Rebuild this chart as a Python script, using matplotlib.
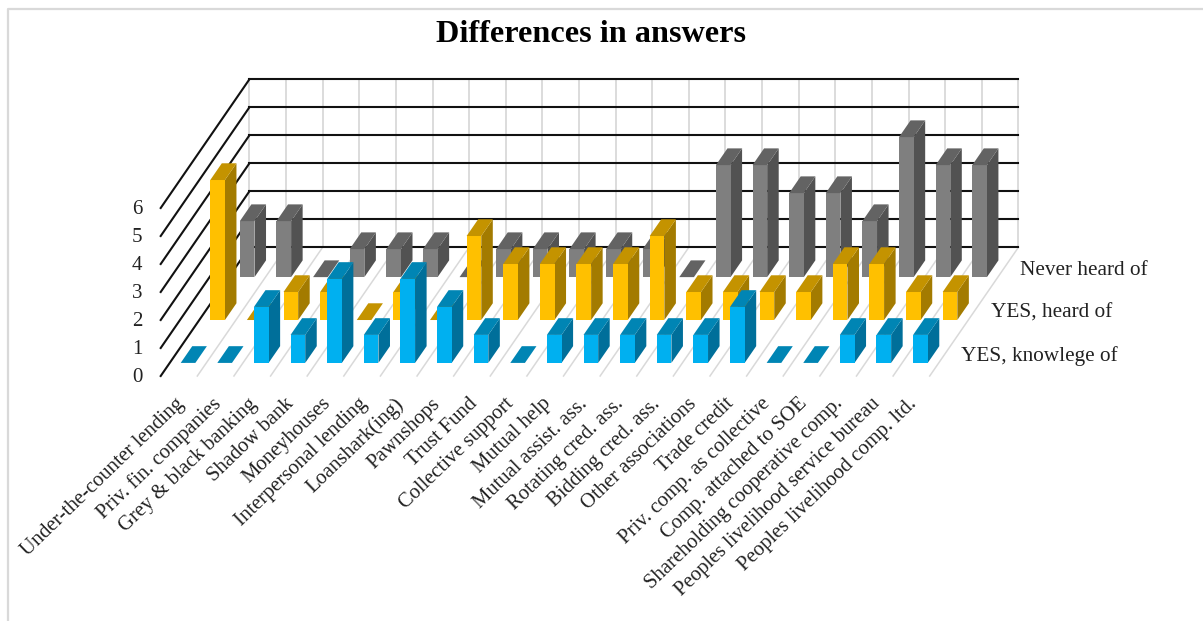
import matplotlib
matplotlib.use("Agg")
import matplotlib.pyplot as plt
from matplotlib.patches import Polygon

categories = ["Under-the-counter lending", "Priv. fin. companies", "Grey & black banking",
              "Shadow bank", "Moneyhouses", "Interpersonal lending", "Loanshark(ing)",
              "Pawnshops", "Trust Fund", "Collective support", "Mutual help",
              "Mutual assist. ass.", "Rotating cred. ass.", "Bidding cred. ass.",
              "Other associations", "Trade credit", "Priv. comp. as collective",
              "Comp. attached to SOE", "Shareholding cooperative comp.",
              "Peoples livelihood service bureau", "Peoples livelihood comp. ltd."]
series_names = ["YES, knowlege of", "YES, heard of", "Never heard of"]
knowledge = [0, 0, 2, 1, 3, 1, 3, 2, 1, 0, 1, 1, 1, 1, 1, 2, 0, 0, 1, 1, 1]
heard = [5, 0, 1, 1, 0, 1, 0, 3, 2, 2, 2, 2, 3, 1, 1, 1, 1, 2, 2, 1, 1]
never = [2, 2, 0, 1, 1, 1, 0, 1, 1, 1, 1, 1, 0, 4, 4, 3, 3, 2, 5, 4, 4]
value_ticks = [0, 1, 2, 3, 4, 5, 6]

W, H = 1203, 621
CAT_PX, VAL_PX = 36.62, 28.0
X0, Y0 = 160.7, 376.0
DEPTH_X = 29.57 / CAT_PX      # sideways shift per series, in category units
DEPTH_Y = 42.9 / VAL_PX       # upward shift per series, in value units
BAR_W, BAR_D = 0.40, 0.39

plt.rcParams["font.family"] = ["Liberation Serif", "DejaVu Serif"]
fig = plt.figure(figsize=(W / 100, H / 100), dpi=100, facecolor="white")
ax = fig.add_axes([0, 0, 1, 1])
ax.set_xlim(-X0 / CAT_PX, (W - X0) / CAT_PX)
ax.set_ylim((Y0 - H) / VAL_PX, Y0 / VAL_PX)
ax.axis("off")


def proj(cat, depth, val):
    return cat + depth * DEPTH_X, val + depth * DEPTH_Y


def px(x, y):
    return (x - X0) / CAT_PX, (Y0 - y) / VAL_PX


n = len(categories)
nd = len(series_names)
grid = "#D9D9D9"
for i in range(n + 1):
    ax.plot(*zip(proj(i, nd, 0), proj(i, nd, value_ticks[-1])), color=grid, lw=1.3, zorder=1)
    if i:
        ax.plot(*zip(proj(i, 0, 0), proj(i, nd, 0)), color=grid, lw=1.1, zorder=1)
for v in value_ticks:
    ax.plot(*zip(proj(0, nd, v), proj(n, nd, v)), color="#111111", lw=1.5, zorder=2)
    ax.plot(*zip(proj(0, 0, v), proj(0, nd, v)), color="#111111", lw=1.5, zorder=2)
    ax.text(-0.50, v - 0.07, str(v), ha="right", va="center", fontsize=15, color="#222222")

styles = [("#00B0F0", "#0085B4", "#006F9A"),
          ("#FFC000", "#C49300", "#A37B00"),
          ("#7F7F7F", "#636363", "#525252")]
values = [knowledge, heard, never]
z = 3
for d in (2, 1, 0):
    front_c, top_c, side_c = styles[d]
    for i, v in enumerate(values[d]):
        x0 = i + (1 - BAR_W) / 2
        x1 = x0 + BAR_W
        d0 = d + (1 - BAR_D) / 2
        d1 = d0 + BAR_D
        if v > 0:
            ax.add_patch(Polygon([proj(x1, d0, 0), proj(x1, d1, 0), proj(x1, d1, v), proj(x1, d0, v)],
                                 fc=side_c, ec="none", zorder=z))
            ax.add_patch(Polygon([proj(x0, d0, 0), proj(x1, d0, 0), proj(x1, d0, v), proj(x0, d0, v)],
                                 fc=front_c, ec="none", zorder=z))
        ax.add_patch(Polygon([proj(x0, d0, v), proj(x1, d0, v), proj(x1, d1, v), proj(x0, d1, v)],
                             fc=top_c, ec="none", zorder=z))
    z += 1

for i, name in enumerate(categories):
    ax.text(i + 0.57, -0.90, name, rotation=44, rotation_mode="anchor", ha="right", va="center",
            fontsize=14.9, color="#222222", zorder=8)

for d, name in enumerate(series_names):
    x, y = proj(n + 0.86, d, 0.71)
    ax.text(x, y, name, ha="left", va="center", fontsize=15.3, color="#222222", zorder=8)

ax.text(*px(591, 34.5), "Differences in answers", ha="center", va="center",
        fontsize=23.2, fontweight="bold", color="black", zorder=8)

# chart frame
ax.plot(*zip(px(8, H), px(8, 9), px(W, 9)), color="#D9D9D9", lw=1.6, zorder=9)

fig.savefig("out.png", dpi=100)
